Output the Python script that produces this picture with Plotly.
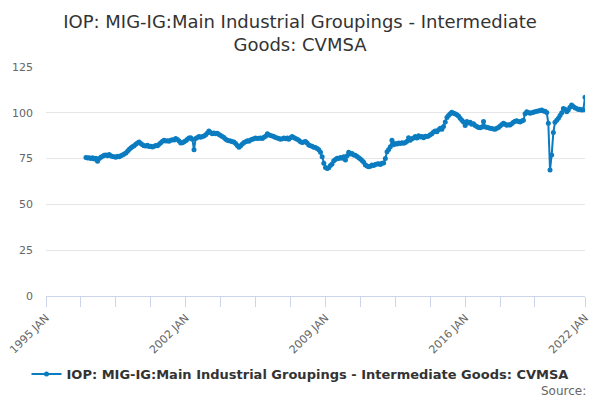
import plotly.graph_objects as go
import pandas as pd

title_text = "IOP: MIG-IG:Main Industrial Groupings - Intermediate<br>Goods: CVMSA"
series_name = "<b>IOP: MIG-IG:Main Industrial Groupings - Intermediate Goods: CVMSA</b>"
source_text = "Source:"

start_month = "1997-01-01"

v1997 = [75.6, 75.3, 75.5, 75.0, 75.4, 74.8, 75.2, 73.5, 75.0, 75.8, 76.3, 76.8]
v1998 = [77.0, 76.6, 77.2, 76.5, 76.2, 76.0, 75.8, 76.3, 76.0, 76.6, 77.0, 77.5]
v1999 = [78.0, 79.0, 80.0, 80.8, 81.5, 82.0, 82.8, 83.5, 84.0, 83.2, 82.5, 82.0]
v2000 = [81.9, 82.3, 81.6, 81.8, 81.4, 81.7, 82.2, 82.0, 82.8, 83.6, 84.5, 85.0]
v2001 = [84.6, 84.8, 84.5, 85.0, 85.3, 85.1, 86.0, 85.4, 84.6, 83.5, 83.6, 84.2]
v2002 = [84.8, 85.5, 86.2, 86.4, 85.6, 79.8, 86.0, 86.5, 87.0, 86.6, 87.0, 87.4]
v2003 = [88.0, 89.0, 90.0, 89.3, 88.5, 89.0, 88.6, 88.8, 88.2, 87.6, 87.0, 86.5]
v2004 = [85.5, 85.0, 84.8, 84.6, 84.2, 84.0, 83.2, 82.2, 81.2, 82.0, 83.0, 83.8]
v2005 = [84.2, 84.8, 84.5, 85.2, 85.6, 85.8, 86.2, 86.0, 86.1, 86.3, 86.0, 86.6]
v2006 = [87.2, 88.6, 88.0, 87.6, 87.4, 87.0, 86.5, 86.2, 86.0, 85.6, 85.9, 86.2]
v2007 = [85.8, 86.3, 85.5, 86.4, 87.0, 86.5, 86.0, 85.6, 85.0, 84.2, 83.8, 84.0]
v2008 = [84.3, 83.5, 82.4, 82.0, 81.8, 81.2, 81.0, 80.5, 79.8, 78.5, 76.0, 72.5]
v2009 = [70.2, 69.6, 70.0, 71.2, 72.0, 73.8, 74.5, 75.2, 75.0, 75.6, 75.2, 76.0]
v2010 = [74.2, 76.5, 78.4, 77.5, 77.8, 77.0, 76.8, 76.2, 75.5, 74.8, 74.0, 73.0]
v2011 = [71.5, 71.0, 70.6, 70.8, 71.5, 71.2, 71.8, 72.0, 72.2, 71.8, 72.4, 72.6]
v2012 = [75.0, 78.8, 80.0, 81.5, 85.0, 82.5, 83.3, 83.0, 83.5, 83.2, 83.6, 83.4]
v2013 = [83.8, 84.5, 86.4, 85.0, 85.8, 86.2, 87.0, 86.3, 87.5, 86.8, 87.0, 86.4]
v2014 = [87.2, 87.0, 87.4, 88.0, 88.6, 89.5, 90.0, 89.6, 90.8, 91.5, 91.0, 92.5]
v2015 = [95.0, 97.5, 98.5, 99.5, 100.3, 99.8, 99.5, 99.0, 98.2, 97.0, 96.0, 95.0]
v2016 = [93.0, 95.2, 94.4, 94.8, 93.7, 94.0, 93.0, 92.5, 92.0, 91.9, 92.3, 95.2]
v2017 = [92.3, 92.1, 91.8, 91.5, 91.4, 91.2, 91.0, 91.5, 92.0, 92.8, 93.6, 94.3]
v2018 = [93.8, 93.2, 93.5, 93.3, 94.0, 94.8, 95.4, 95.7, 95.3, 95.0, 95.5, 96.0]
v2019 = [99.5, 100.6, 100.2, 99.8, 100.0, 100.3, 100.6, 100.8, 101.0, 101.3, 101.5, 101.0]
v2020 = [100.8, 100.2, 94.3, 68.8, 77.0, 89.3, 94.8, 96.0, 97.0, 98.5, 100.0, 102.4]
v2021 = [102.0, 100.6, 101.5, 103.0, 104.3, 103.5, 102.8, 102.4, 101.8, 102.0, 101.5, 101.6]
v2022 = [108.5]

values = (v1997 + v1998 + v1999 + v2000 + v2001 + v2002 + v2003 + v2004 + v2005 +
          v2006 + v2007 + v2008 + v2009 + v2010 + v2011 + v2012 + v2013 + v2014 +
          v2015 + v2016 + v2017 + v2018 + v2019 + v2020 + v2021 + v2022)
dates = pd.date_range(start_month, periods=len(values), freq="MS")

x_tick_vals = ["1995-01-01", "1996-10-01", "1998-07-01", "2000-04-01", "2002-01-01",
               "2003-10-01", "2005-07-01", "2007-04-01", "2009-01-01", "2010-10-01",
               "2012-07-01", "2014-04-01", "2016-01-01", "2017-10-01", "2019-07-01",
               "2022-01-01"]
x_tick_text = ["1995 JAN", "", "", "", "2002 JAN", "", "", "", "2009 JAN", "", "", "",
               "2016 JAN", "", "", "2022 JAN"]
y_tick_vals = [0, 25, 50, 75, 100, 125]

color = "#0b7cc0"

fig = go.Figure()
fig.add_trace(go.Scatter(
    x=dates, y=values, mode="lines+markers", name=series_name,
    line=dict(color=color, width=2),
    marker=dict(color=color, size=5),
))

fig.update_layout(
    width=600, height=400,
    margin=dict(l=46, r=15, t=67, b=104, autoexpand=False),
    paper_bgcolor="white", plot_bgcolor="white",
    font=dict(family="DejaVu Sans", color="#666666"),
    title=dict(text=title_text, x=0.5, xanchor="center", y=1 - 28 / 400,
               yanchor="middle", yref="container",
               font=dict(size=18, color="#333333", family="DejaVu Sans")),
    showlegend=True,
    legend=dict(orientation="h", x=0.5, xanchor="center", xref="container",
                yref="container", y=1 - 374 / 400, yanchor="middle", itemwidth=30,
                font=dict(size=13, color="#333333", family="DejaVu Sans")),
    hovermode=False,
)
fig.update_xaxes(
    type="date", range=["1995-01-01", "2022-01-01"], automargin=False,
    tickmode="array", tickvals=x_tick_vals, ticktext=x_tick_text,
    tickangle=-45, tickfont=dict(size=11, color="#666666"),
    showgrid=False, showline=True, linecolor="#ccd6eb", linewidth=1,
    ticks="outside", ticklen=10, tickcolor="#ccd6eb", zeroline=False,
)
fig.update_yaxes(
    range=[0, 125], tickmode="array", tickvals=y_tick_vals, automargin=False,
    tickfont=dict(size=11, color="#666666"),
    showgrid=True, gridcolor="#e6e6e6", gridwidth=1, zeroline=False,
    showline=False, ticks="", ticklabelstandoff=12,
)
fig.add_annotation(text=source_text, xref="paper", yref="paper",
                   x=1.006, y=-0.415, xanchor="right", yanchor="middle",
                   showarrow=False, font=dict(size=12, color="#666666"))

fig.write_html("out.html", post_script="document.body.style.margin='0';",
               config={"displayModeBar": False})
